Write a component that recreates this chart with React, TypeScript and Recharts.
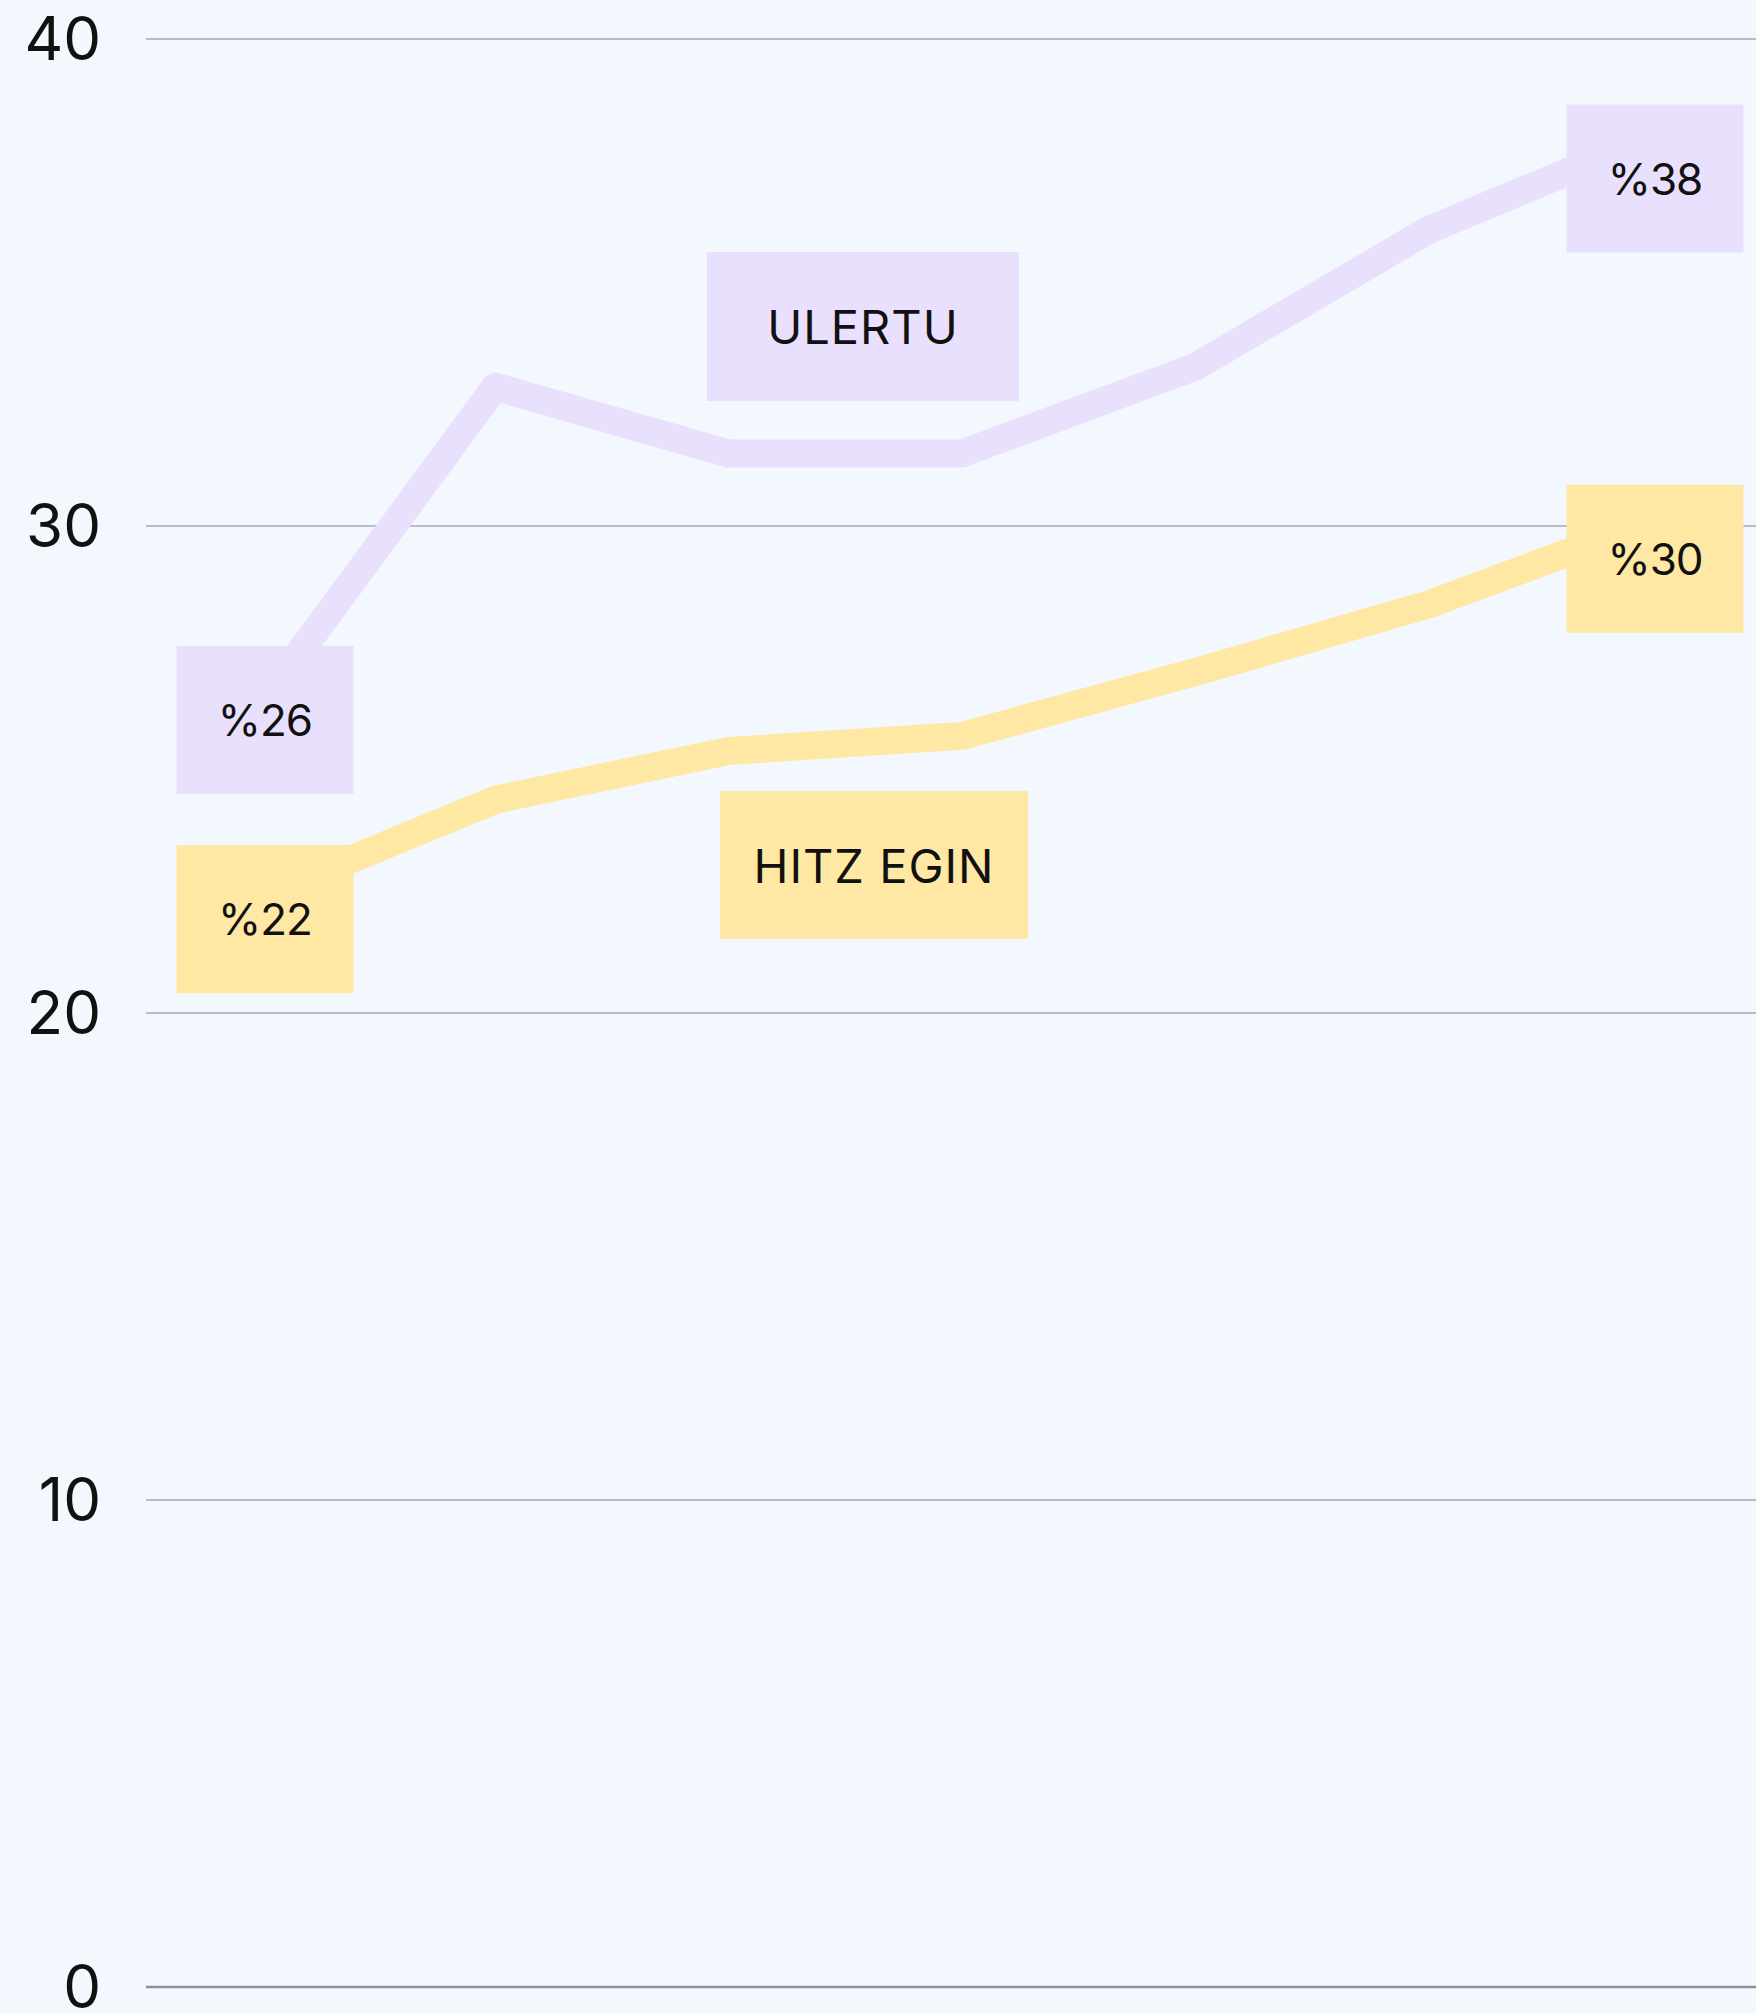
import { CartesianGrid, LabelList, Line, LineChart, ReferenceLine, XAxis, YAxis } from "recharts";

const STEPS = ["1", "2", "3", "4", "5", "6", "7"];
const ULERTU = [26.35, 32.86, 31.49, 31.49, 33.27, 36.08, 38.08];
const HITZ_EGIN = [22.4, 24.38, 25.38, 25.69, 27.0, 28.39, 30.17];
const ULERTU_LABELS = ["%26", "", "", "", "", "", "%38"];
const HITZ_EGIN_LABELS = ["%22", "", "", "", "", "", "%30"];
const Y_TICKS = [0, 10, 20, 30, 40];

const SERIES_NAMES = { ulertu: "ULERTU", hitz: "HITZ EGIN" };

const BG = "#F3F8FF";
const LAVENDER = "#E9E0FE";
const YELLOW = "#FFE8A4";
const FONT = "Inter, 'Noto Sans', sans-serif";

const BOX_W = 177;
const BOX_H = 148;
// end boxes sit a little below the line's end points
const ULERTU_SHIFT = { first: { dx: 3, dy: 16 }, last: { dx: -7, dy: 46 } };
const HITZ_SHIFT = { first: { dx: 3, dy: 23 }, last: { dx: -7, dy: 41 } };

const data = STEPS.map((step, i) => ({
  step,
  ulertu: ULERTU[i],
  hitz: HITZ_EGIN[i],
  ulertuLabel: ULERTU_LABELS[i],
  hitzLabel: HITZ_EGIN_LABELS[i],
}));

function endBox(fill: string, shifts: typeof ULERTU_SHIFT) {
  return (props: any) => {
    const { x, y, value, index } = props;
    if (!value) return null;
    const shift = index === 0 ? shifts.first : shifts.last;
    const cx = Number(x) + shift.dx;
    const cy = Number(y) + shift.dy;
    return (
      <g>
        <rect x={cx - BOX_W / 2} y={cy - BOX_H / 2} width={BOX_W} height={BOX_H} fill={fill} />
        <text x={cx} y={cy + 16} textAnchor="middle" fontSize={44} fontFamily={FONT} fill="#111" letterSpacing={-1}>
          {value}
        </text>
      </g>
    );
  };
}

const tagStyle = {
  position: "absolute" as const,
  display: "flex",
  alignItems: "center",
  justifyContent: "center",
  fontFamily: FONT,
  fontSize: 47,
  color: "#111",
  letterSpacing: 1,
};

export default function App() {
  return (
    <div style={{ position: "absolute", left: 0, top: 0, width: 1756, height: 2014, background: BG }}>
      <LineChart width={1756} height={2014} data={data} margin={{ top: 39, right: 0, bottom: 27, left: 0 }}>
        <CartesianGrid vertical={false} stroke="#B9BCC8" strokeWidth={2} />
        <XAxis dataKey="step" hide padding={{ left: 116, right: 94 }} />
        <YAxis
          width={146}
          domain={[0, 40]}
          ticks={Y_TICKS}
          interval={0}
          axisLine={false}
          tickLine={false}
          tickSize={0}
          tickMargin={45}
          tick={{ fontSize: 60, fill: "#111", fontFamily: FONT }}
        />
        <ReferenceLine y={0} stroke="#8E9098" strokeWidth={2.5} />
        <Line
          dataKey="ulertu"
          stroke={LAVENDER}
          strokeWidth={28}
          strokeLinejoin="round"
          dot={false}
          activeDot={false}
          isAnimationActive={false}
        >
          <LabelList dataKey="ulertuLabel" content={endBox(LAVENDER, ULERTU_SHIFT)} />
        </Line>
        <Line
          dataKey="hitz"
          stroke={YELLOW}
          strokeWidth={28}
          strokeLinejoin="round"
          dot={false}
          activeDot={false}
          isAnimationActive={false}
        >
          <LabelList dataKey="hitzLabel" content={endBox(YELLOW, HITZ_SHIFT)} />
        </Line>
      </LineChart>
      <div style={{ ...tagStyle, left: 707, top: 252, width: 312, height: 149, background: LAVENDER }}>
        {SERIES_NAMES.ulertu}
      </div>
      <div style={{ ...tagStyle, left: 720, top: 791, width: 308, height: 148, background: YELLOW }}>
        {SERIES_NAMES.hitz}
      </div>
    </div>
  );
}
